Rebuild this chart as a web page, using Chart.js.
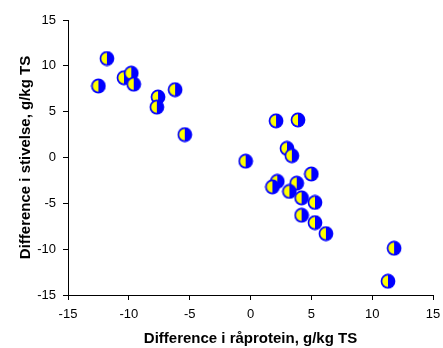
<!DOCTYPE html>
<html>
<head>
<meta charset="utf-8">
<script src="https://cdn.jsdelivr.net/npm/chart.js@4/dist/chart.umd.min.js"></script>
<style>
  html, body { margin: 0; padding: 0; background: #fff; }
  #wrap { width: 443px; height: 348px; }
</style>
</head>
<body>
<div id="wrap"><canvas id="scatterChart" width="443" height="348"></canvas></div>
<script>
// Difference in crude protein (x) vs difference in starch (y), g/kg TS
const proteinDiff = [-11.8, -12.5, -10.4, -9.8, -9.6, -7.6, -7.7, -6.2, -5.4, -0.4,
                     2.1, 3.9, 3.0, 3.4, 5.0, 2.2, 1.8, 3.8, 3.2, 4.2,
                     5.3, 4.2, 5.3, 6.2, 11.8, 11.3];
const starchDiff  = [10.8, 7.8, 8.7, 9.2, 8.0, 6.6, 5.5, 7.4, 2.5, -0.4,
                     4.0, 4.1, 1.0, 0.2, -1.8, -2.6, -3.2, -2.8, -3.7, -4.4,
                     -4.9, -6.3, -7.1, -8.3, -9.9, -13.5];
const axisTicks = [-15, -10, -5, 0, 5, 10, 15];

// half yellow / half blue marker
function makeMarker() {
    const c = document.createElement('canvas');
    c.width = 16; c.height = 16;
    const g = c.getContext('2d');
    g.fillStyle = '#0000ff';
    g.beginPath(); g.arc(8, 8, 7.4, 0, Math.PI * 2); g.fill();
    g.fillStyle = '#ffff00';
    g.beginPath(); g.moveTo(8, 8);
    g.arc(8, 8, 5.7, Math.PI * 0.5, Math.PI * 1.5); g.closePath(); g.fill();
    return c;
}

const points = proteinDiff.map((x, i) => ({ x: x, y: starchDiff[i] }));

const axisFont = { family: 'Liberation Sans, Arial, sans-serif', size: 13 };
const titleFont = { family: 'Liberation Sans, Arial, sans-serif', size: 15, weight: 'bold' };

new Chart(document.getElementById('scatterChart'), {
    type: 'scatter',
    data: {
        datasets: [{
            data: points,
            pointStyle: makeMarker(),
            pointRadius: 7,
            pointHoverRadius: 7
        }]
    },
    options: {
        responsive: false,
        animation: false,
        events: [],
        layout: { padding: { top: 20, right: 0, left: 0, bottom: 0 } },
        plugins: { legend: { display: false }, tooltip: { enabled: false } },
        scales: {
            x: {
                type: 'linear',
                min: -15, max: 15,
                afterBuildTicks: axis => { axis.ticks = axisTicks.map(v => ({ value: v })); },
                afterFit: axis => { axis.height = 53; axis.paddingRight = 10; },
                border: { color: '#000', width: 1 },
                grid: { drawOnChartArea: false, tickLength: 5, tickColor: '#000' },
                ticks: { color: '#000', font: axisFont, padding: 7, maxRotation: 0 },
                title: { display: true, text: 'Difference i råprotein, g/kg TS', color: '#000',
                         font: titleFont, padding: { top: 4, bottom: 0 } }
            },
            y: {
                type: 'linear',
                min: -15, max: 15,
                afterBuildTicks: axis => { axis.ticks = axisTicks.map(v => ({ value: v })); },
                afterFit: axis => { axis.width = 68; },
                border: { color: '#000', width: 1 },
                grid: { drawOnChartArea: false, tickLength: 5, tickColor: '#000' },
                ticks: { color: '#000', font: axisFont, padding: 7 },
                title: { display: true, text: 'Difference i stivelse, g/kg TS', color: '#000',
                         font: titleFont, padding: { top: 17, bottom: 0 } }
            }
        }
    }
});
</script>
</body>
</html>
